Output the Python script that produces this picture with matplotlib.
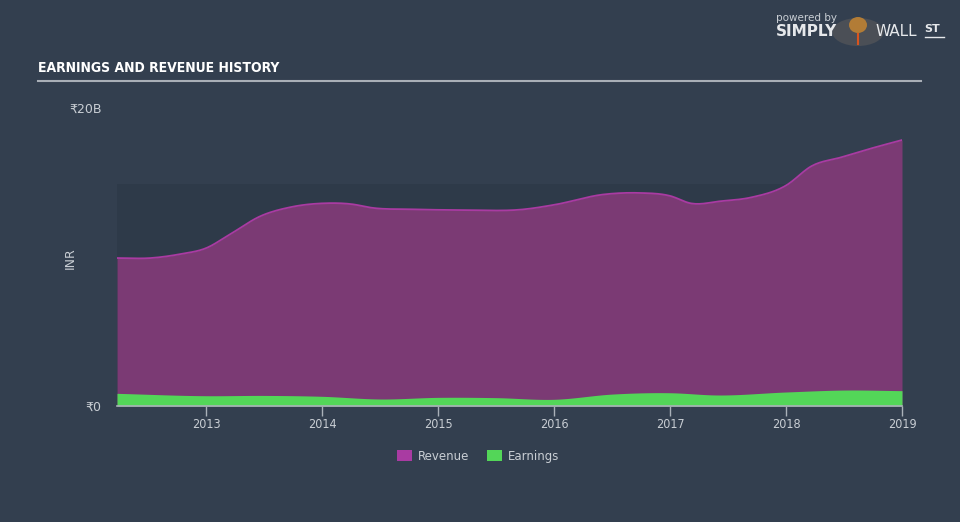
import numpy as np
import matplotlib.pyplot as plt
from matplotlib.patches import Patch, Rectangle, Circle, Ellipse

# ── data ──────────────────────────────────────────────────────────────────
rev_t = [2012.23, 2012.52, 2012.78, 2013.0, 2013.2, 2013.47, 2013.73, 2014.0,
         2014.25, 2014.43, 2014.78, 2015.22, 2015.74, 2016.0, 2016.43, 2016.73,
         2017.0, 2017.18, 2017.44, 2017.7, 2018.0, 2018.22, 2018.48, 2018.74, 2019.0]
revenue = [9.93, 9.93, 10.2, 10.6, 11.5, 12.75, 13.35, 13.6,
           13.55, 13.3, 13.2, 13.15, 13.2, 13.5, 14.2, 14.3,
           14.1, 13.6, 13.75, 14.0, 14.8, 16.1, 16.7, 17.3, 17.85]

earn_t = [2012.23, 2013.0, 2013.5, 2014.0, 2014.5, 2015.0, 2015.5, 2016.0,
          2016.5, 2017.0, 2017.4, 2018.0, 2018.5, 2019.0]
earnings = [0.85, 0.69, 0.71, 0.65, 0.47, 0.58, 0.56, 0.45,
            0.80, 0.89, 0.74, 0.94, 1.07, 1.03]

year_ticks = [2013, 2014, 2015, 2016, 2017, 2018, 2019]
y_ticks = [0, 20]
y_labels = ["₹0", "₹20B"]

BG = "#333f4f"
PLOT_BG = "#2e3a49"
REV_FILL = "#7b3a74"
REV_LINE = "#a93ba2"
EARN = "#53d658"
TXT = "#c9ced4"


def smooth(t, v, n=400):
    # cubic hermite smoothing between the read points (drawing only)
    t = np.asarray(t, float)
    v = np.asarray(v, float)
    xs = np.linspace(t[0], t[-1], n)
    d = np.gradient(v, t)
    ys = np.empty_like(xs)
    for k, x in enumerate(xs):
        i = min(np.searchsorted(t, x, side="right") - 1, len(t) - 2)
        h = t[i + 1] - t[i]
        s = (x - t[i]) / h
        h00 = 2 * s**3 - 3 * s**2 + 1
        h10 = s**3 - 2 * s**2 + s
        h01 = -2 * s**3 + 3 * s**2
        h11 = s**3 - s**2
        ys[k] = h00 * v[i] + h10 * h * d[i] + h01 * v[i + 1] + h11 * h * d[i + 1]
    return xs, ys


fig = plt.figure(figsize=(9.6, 5.22), dpi=100, facecolor=BG)
ax = fig.add_axes([117 / 960, 1 - 406 / 522, 785 / 960, 298 / 522])
ax.set_facecolor(BG)

# darker plot band
ax.add_patch(Rectangle((0, 0), 1, 0.745, transform=ax.transAxes,
                       facecolor=PLOT_BG, edgecolor="none", zorder=0))

rx, ry = smooth(rev_t, revenue)
ax.fill_between(rx, 0, ry, color=REV_FILL, lw=0, zorder=2)
ax.plot(rx, ry, color=REV_LINE, lw=1.3, zorder=3)

ex, ey = smooth(earn_t, earnings)
ax.fill_between(ex, 0, ey, color=EARN, lw=0, zorder=4)

ax.set_xlim(rev_t[0], 2019.0)
ax.set_ylim(0, 20)

for s in ["top", "right", "left"]:
    ax.spines[s].set_visible(False)
ax.spines["bottom"].set_color("#aab1b9")
ax.spines["bottom"].set_linewidth(1.2)
ax.spines["bottom"].set_zorder(5)

ax.set_xticks(year_ticks)
ax.set_xticklabels([str(y) for y in year_ticks])
ax.tick_params(axis="x", colors="#aab1b9", labelcolor=TXT, labelsize=9,
               length=7, width=1, direction="out", pad=2)
ax.set_yticks(y_ticks)
ax.set_yticklabels(y_labels)
ax.tick_params(axis="y", length=0, labelcolor=TXT, labelsize=9, pad=11)
for lab in ax.get_xticklabels():
    lab.set_fontstretch("condensed")

ax.set_ylabel("INR", color=TXT, fontsize=9)
ax.yaxis.set_label_coords(-0.051, 0.497)

# title + rule
fig.text(38 / 960, 1 - 68 / 522, "EARNINGS AND REVENUE HISTORY", color="white",
         fontsize=10, fontweight="bold", va="center", ha="left",
         fontstretch="condensed")
fig.add_artist(plt.Line2D([38 / 960, 921 / 960], [1 - 81 / 522, 1 - 81 / 522],
                          color="#a9afb7", lw=1.5))

# logo
fig.text(776 / 960, 1 - 18 / 522, "powered by", color="#c9ced4", fontsize=7.5,
         va="center", ha="left")
fig.text(776 / 960, 1 - 32 / 522, "SIMPLY", color="#e6e8eb", fontsize=11,
         fontweight="bold", va="center", ha="left")
fig.text(876 / 960, 1 - 32 / 522, "WALL", color="#e6e8eb", fontsize=11,
         va="center", ha="left")
fig.text(924 / 960, 1 - 29 / 522, "ST", color="#e6e8eb", fontsize=8,
         fontweight="bold", va="center", ha="left")
fig.add_artist(plt.Line2D([925 / 960, 944 / 960], [1 - 37 / 522, 1 - 37 / 522],
                          color="#e6e8eb", lw=1))
fig.add_artist(Circle((858 / 960, 1 - 32 / 522), 14 / 522, transform=fig.transFigure,
                      facecolor="#4b4f56", edgecolor="none"))
fig.add_artist(Ellipse((858 / 960, 1 - 25 / 522), 18 / 960, 16 / 522,
                       transform=fig.transFigure, facecolor="#b27c36", edgecolor="none"))
fig.add_artist(plt.Line2D([858 / 960, 858 / 960], [1 - 34 / 522, 1 - 44 / 522],
                          color="#d9541e", lw=1.5))

# legend
handles = [Patch(facecolor="#a93ba2", edgecolor="none", label="Revenue"),
           Patch(facecolor=EARN, edgecolor="none", label="Earnings")]
leg = fig.legend(handles=handles, loc="center", bbox_to_anchor=(478 / 960, 1 - 456 / 522),
                 ncol=2, frameon=False, fontsize=8.5, handlelength=1.3,
                 handleheight=1.0, columnspacing=1.5, handletextpad=0.5)
for t in leg.get_texts():
    t.set_color(TXT)

fig.savefig("out.png", dpi=100, facecolor=BG)
